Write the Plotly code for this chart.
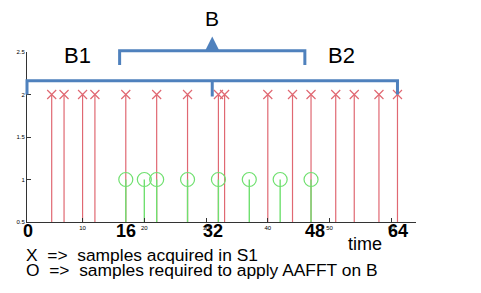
import plotly.graph_objects as go

# ---- data ----
red_x = [5, 7, 10, 12, 17, 22, 27, 32, 33, 40, 44, 47, 51, 54, 58, 61]
red_y = [2] * len(red_x)
green_x = [17, 20, 22, 27, 32, 37, 42, 47]
green_y = [1] * len(green_x)
x_ticks = [10, 20, 30, 40, 50, 60]
y_ticks = [0.5, 1, 1.5, 2, 2.5]
y_tick_text = ["0.5", "1", "1.5", "2", "2.5"]
big_labels = ["0", "16", "32", "48", "64"]
big_label_x = [1.2, 17, 31.2, 47.6, 61.1]
bracket_b1 = [1, 31]
bracket_b2 = [31, 61]
bracket_b = [16, 46]
legend_lines = ["X\u00a0\u00a0=>\u00a0\u00a0samples acquired in S1",
                "O\u00a0\u00a0=>\u00a0\u00a0samples required to apply AAFFT on B"]

RED = "#e06872"
GREEN = "#6fe06f"
BLUE = "#4f81bd"
FONT = "Liberation Sans, Arial, sans-serif"

OFF = 8  # page body margin
W, H = 481 - OFF, 293 - OFF
ML, MR, MT, MB = 27 - OFF, 65, 52 - OFF, 71
XMIN, XMAX = 1, 64
YMIN, YMAX = 0.5, 2.5
PW = W - ML - MR
PH = H - MT - MB


def px_y(py):
    # screen pixel (reference) -> paper y
    return (H - MB - (py - OFF)) / PH


def sx_x(sx):
    # screen pixel (reference) -> paper x
    return ((sx - OFF) - ML) / PW


def px_x(x):
    return (x - XMIN) / (XMAX - XMIN)


def stems(xs, ys, base):
    sx, sy = [], []
    for x, y in zip(xs, ys):
        sx += [x, x, None]
        sy += [base, y, None]
    return sx, sy

fig = go.Figure()
rx, ry = stems(red_x, red_y, YMIN)
fig.add_trace(go.Scatter(x=rx, y=ry, mode="lines", line=dict(color=RED, width=1.2),
                         hoverinfo="skip", cliponaxis=False))
fig.add_trace(go.Scatter(x=red_x, y=red_y, mode="markers",
                         marker=dict(symbol="x-thin-open", size=9, color=RED,
                                     line=dict(color=RED, width=1.2)), cliponaxis=False))
gx, gy = stems(green_x, green_y, YMIN)
fig.add_trace(go.Scatter(x=gx, y=gy, mode="lines", line=dict(color=GREEN, width=1.4),
                         hoverinfo="skip"))
fig.add_trace(go.Scatter(x=green_x, y=green_y, mode="markers",
                         marker=dict(symbol="circle-open", size=14, color=GREEN,
                                     line=dict(color=GREEN, width=1.2))))

shapes = []
def bracket(x0, x1, yh_px, yend_px):
    pts = [(px_x(x0), px_y(yend_px)), (px_x(x0), px_y(yh_px)),
           (px_x(x1), px_y(yh_px)), (px_x(x1), px_y(yend_px))]
    path = "M " + " L ".join(f"{a},{b}" for a, b in pts)
    shapes.append(dict(type="path", xref="paper", yref="paper", path=path,
                       line=dict(color=BLUE, width=3)))

# big bracket B1 + B2
bracket(bracket_b1[0], bracket_b2[1], 80.7, 94.5)
shapes.append(dict(type="line", xref="paper", yref="paper",
                   x0=px_x(bracket_b1[1]), x1=px_x(bracket_b1[1]),
                   y0=px_y(80.7), y1=px_y(96.5), line=dict(color=BLUE, width=3)))
# upper bracket B
bracket(bracket_b[0], bracket_b[1], 50.7, 65)

annotations = []
mid_b = (bracket_b[0] + bracket_b[1]) / 2
annotations.append(dict(x=px_x(mid_b), y=px_y(36.5),
                        xref="paper", yref="paper", text="", showarrow=True,
                        ax=0, ay=14, arrowhead=2, arrowsize=0.9, arrowwidth=3,
                        arrowcolor=BLUE))


def txt(x, y, text, size, xanchor="center", xref="paper"):
    annotations.append(dict(x=x, y=y, xref=xref, yref="paper", text=text, showarrow=False,
                            xanchor=xanchor, yanchor="middle",
                            font=dict(family=FONT, size=size, color="black")))

txt(px_x(mid_b), px_y(18.5), "B", 21)
txt(sx_x(77), px_y(55), "B1", 22)
txt(sx_x(341), px_y(55), "B2", 22)
for lab, lx in zip(big_labels, big_label_x):
    txt(lx, px_y(231), f"<b>{lab}</b>", 18, xref="x")
txt(sx_x(365), px_y(244), "time", 18)
for i, line in enumerate(legend_lines):
    txt(sx_x(24), px_y(255 + i * 14.5), line, 17.4, xanchor="left")

fig.update_layout(
    width=W, height=H, margin=dict(l=ML, r=MR, t=MT, b=MB, pad=0, autoexpand=False),
    plot_bgcolor="white", paper_bgcolor="white", showlegend=False,
    shapes=shapes, annotations=annotations,
    xaxis=dict(range=[XMIN, XMAX], tickvals=x_ticks, ticks="inside", ticklen=4,
               showline=True, linecolor="#333", linewidth=1, showgrid=False,
               zeroline=False, tickfont=dict(family=FONT, size=6, color="black"),
               tickcolor="#333", automargin=False),
    yaxis=dict(range=[YMIN, YMAX], tickvals=y_ticks, ticktext=y_tick_text,
               ticks="inside", ticklen=4,
               showline=True, linecolor="#333", linewidth=1, showgrid=False,
               zeroline=False, tickfont=dict(family=FONT, size=6, color="black"),
               tickcolor="#333", automargin=False),
)
fig.write_html("out.html")
